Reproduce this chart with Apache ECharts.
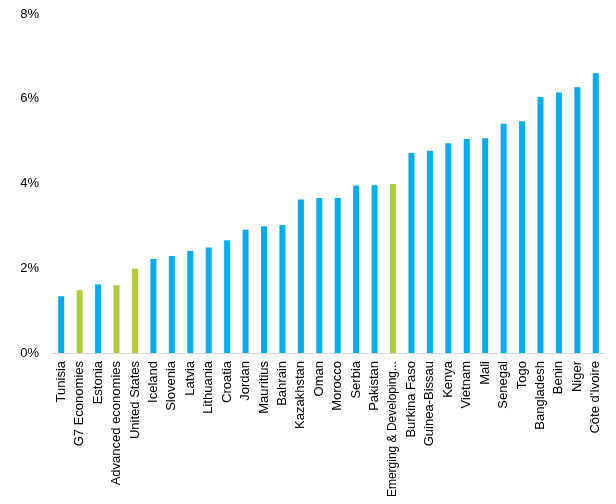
<!DOCTYPE html>
<html>
<head>
<meta charset="utf-8">
<script src="https://cdn.jsdelivr.net/npm/echarts@6/dist/echarts.min.js"></script>
<style>
html,body{margin:0;padding:0;background:#fff;}
#chart{width:616px;height:504px;}
</style>
</head>
<body>
<div id="chart"></div>
<script>
const categories = ["Tunisia","G7 Economies","Estonia","Advanced economies","United States","Iceland","Slovenia","Latvia","Lithuania","Croatia","Jordan","Mauritius","Bahrain","Kazakhstan","Oman","Morocco","Serbia","Pakistan","Emerging & Developing Economies","Burkina Faso","Guinea-Bissau","Kenya","Vietnam","Mali","Senegal","Togo","Bangladesh","Benin","Niger","Côte d'Ivoire"];
const values = [1.34,1.48,1.62,1.60,1.99,2.22,2.29,2.41,2.49,2.66,2.91,2.99,3.02,3.62,3.66,3.66,3.95,3.96,3.99,4.72,4.77,4.95,5.05,5.07,5.41,5.47,6.04,6.15,6.27,6.60];
const aggregates = ["G7 Economies","Advanced economies","United States","Emerging & Developing Economies"];
const yTicks = [0,2,4,6,8];

const BLUE = '#00AEEF';
const GREEN = '#AECE38';

const chart = echarts.init(document.getElementById('chart'));
chart.setOption({
  animation:false,
  grid:{left:52,right:11,top:14,bottom:151,containLabel:false},
  xAxis:{
    type:'category',
    data:categories.map(c => c.length > 22 ? {value:c, textStyle:{fontSize:12}} : c),
    axisTick:{show:false},
    axisLine:{lineStyle:{color:'#d9d9d9',width:1}},
    axisLabel:{
      rotate:90,
      interval:0,
      margin:8,
      fontFamily:'Liberation Sans, Arial, sans-serif',
      fontSize:13,
      color:'#000',
      width:142,
      overflow:'truncate',
      ellipsis:'...'
    }
  },
  yAxis:{
    type:'value',
    min:yTicks[0],
    max:yTicks[yTicks.length-1],
    interval:2,
    axisLine:{show:false},
    axisTick:{show:false},
    splitLine:{show:false},
    axisLabel:{
      formatter:'{value}%',
      margin:13,
      fontFamily:'Liberation Sans, Arial, sans-serif',
      fontSize:13,
      color:'#000'
    }
  },
  series:[{
    type:'bar',
    barWidth:6,
    data:values.map((v,i)=>({value:v,itemStyle:{color:aggregates.includes(categories[i])?GREEN:BLUE}}))
  }]
});
</script>
</body>
</html>
